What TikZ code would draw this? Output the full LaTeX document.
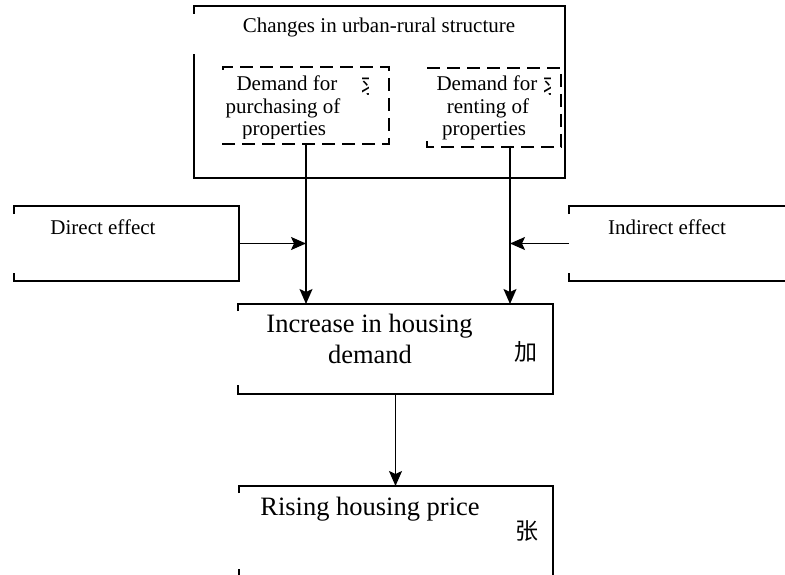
\documentclass[tikz,border=0pt]{standalone}
\usepackage{fontspec}
\setmainfont{Liberation Serif}
\newfontfamily\cjk{Noto Sans CJK SC}
\usetikzlibrary{arrows.meta,calc}
\begin{document}
\begin{tikzpicture}[x=1pt,y=-1pt,
  frame/.style={draw=none,inner sep=0pt,outer sep=0pt,anchor=north west},
  edge/.style={line width=1.6pt},
  dashedge/.style={line width=1.6pt,dash pattern=on 13pt off 7pt},
  conn/.style={line width=1.6pt,-{Stealth[length=15pt,width=13pt,inset=3pt]}},
  small/.style={font=\fontsize{21}{23}\selectfont,inner sep=0pt,anchor=base},
  big/.style={font=\fontsize{26.5}{31}\selectfont,inner sep=0pt,anchor=base},
  cjkch/.style={font=\cjk\fontsize{23}{23}\selectfont,inner sep=0pt}]
\useasboundingbox (0,0) rectangle (785,575);

% frames
\node[frame,minimum width=371pt,minimum height=172pt] (top) at (194,6) {};
\node[frame,minimum width=166pt,minimum height=77pt] (d1) at (223,67) {};
\node[frame,minimum width=134pt,minimum height=79pt] (d2) at (427,68) {};
\node[frame,minimum width=225pt,minimum height=75pt] (direct) at (14,206) {};
\node[frame,minimum width=240pt,minimum height=75pt] (indirect) at (569,206) {};
\node[frame,minimum width=315pt,minimum height=90pt] (inc) at (238,304) {};
\node[frame,minimum width=314pt,minimum height=91pt] (rise) at (239,486) {};

% borders
\draw[edge] ($(top.north west)+(0,8)$) -- (top.north west) -- (top.north east)
  -- (top.south east) -- (top.south west) -- ($(top.south west)+(0,-124)$);
\draw[dashedge] ($(d1.north west)+(0,3)$) -- (d1.north west) -- (d1.north east)
  -- (d1.south east) -- (d1.south west) -- ($(d1.south west)+(0,-6)$);
\draw[dashedge] (d2.north west) -- (d2.north east)
  -- (d2.south east) -- (d2.south west) -- ($(d2.south west)+(0,-7)$);
\draw[edge] ($(direct.north west)+(0,8)$) -- (direct.north west) -- (direct.north east)
  -- (direct.south east) -- (direct.south west) -- ($(direct.south west)+(0,-8)$);
\draw[edge] ($(indirect.north west)+(0,8)$) -- (indirect.north west) -- (indirect.north east)
  -- (indirect.south east) -- (indirect.south west) -- ($(indirect.south west)+(0,-8)$);
\draw[edge] ($(inc.north west)+(0,7)$) -- (inc.north west) -- (inc.north east)
  -- (inc.south east) -- (inc.south west) -- ($(inc.south west)+(0,-9)$);
\draw[edge] ($(rise.north west)+(0,7)$) -- (rise.north west) -- (rise.north east)
  -- (rise.south east) -- (rise.south west) -- ($(rise.south west)+(0,-8)$);

% texts
\node[small] (toptxt) at (379,33) {Changes in urban-rural structure};
\begin{scope}
  \clip (223,60) rectangle (389,139);
  \node[small] (d1a) at (287,91) {Demand for};
  \node[small] (d1b) at (283,113.5) {purchasing of};
  \node[small] (d1c) at (284,136) {properties};
\end{scope}
\begin{scope}
  \clip (362,71) rectangle (368,98);
  \node[cjkch] (d1g) at (372,85) {求};
\end{scope}
\begin{scope}
  \clip (427,60) rectangle (561,141);
  \node[small] (d2a) at (487,91) {Demand for};
  \node[small] (d2b) at (488,113.5) {renting of};
  \node[small] (d2c) at (484,136) {properties};
\end{scope}
\begin{scope}
  \clip (544,71) rectangle (550,98);
  \node[cjkch] (d2g) at (554,85) {求};
\end{scope}
\node[small] (dirtxt) at (103,234) {Direct effect};
\node[small] (indtxt) at (667,234) {Indirect effect};
\node[big] (inc1) at (369.5,332) {Increase in housing};
\node[big] (inc2) at (370,363) {demand};
\node[cjkch] (incg) at (526,352) {加};
\node[big] (risetxt) at (370,515) {Rising housing price};
\node[cjkch] (riseg) at (527,531) {张};

% connectors
\coordinate (d2out) at (510,146);
\draw[conn] (d1.south) -- (d1.south |- inc.north);
\draw[conn] (d2out) -- (d2out |- inc.north);
\draw[conn] (direct.east) -- (direct.east -| d1.south);
\draw[conn] (indirect.west) -- (indirect.west -| d2out);
\draw[conn] (inc.south) -- (inc.south |- rise.north);
\end{tikzpicture}
\end{document}
